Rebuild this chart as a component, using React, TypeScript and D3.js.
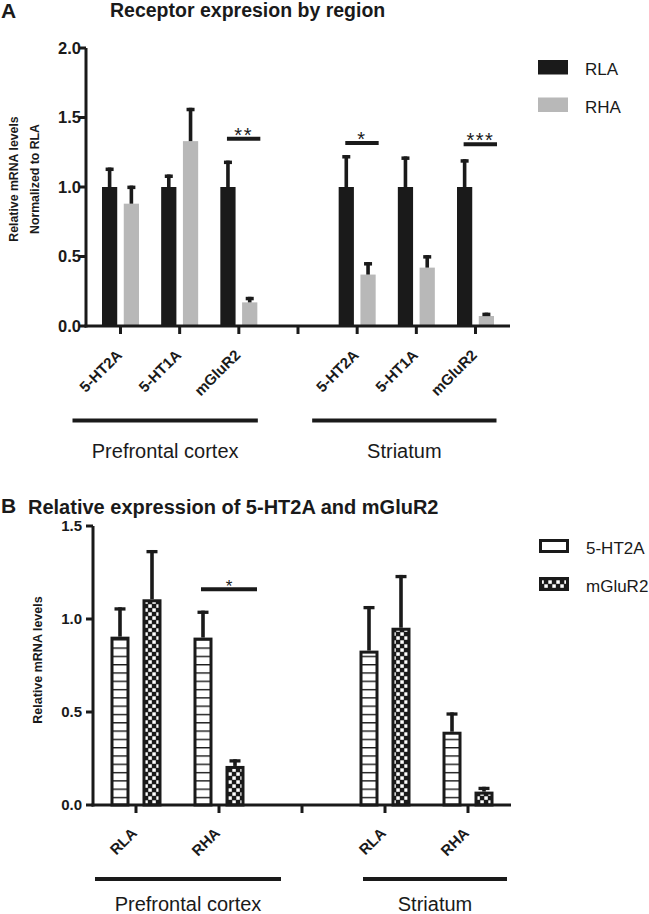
import React from "react";
import * as d3 from "d3";

// ---------- Panel A data ----------
const receptors = ["5-HT2A", "5-HT1A", "mGluR2"];
const regions = ["Prefrontal cortex", "Striatum"];
const strainsA = ["RLA", "RHA"];
const rlaMeans = [1.0, 1.0, 1.0, 1.0, 1.0, 1.0];
const rlaErrors = [0.14, 0.09, 0.19, 0.23, 0.22, 0.2];
const rhaMeans = [0.88, 1.33, 0.17, 0.37, 0.42, 0.072];
const rhaErrors = [0.13, 0.24, 0.04, 0.09, 0.09, 0.024];
const yTicksA = [0, 0.5, 1.0, 1.5, 2.0];
const sigA = [
  { index: 2, level: 1.348, label: "**" },
  { index: 3, level: 1.317, label: "*" },
  { index: 5, level: 1.307, label: "***" },
];

// ---------- Panel B data ----------
const strainsB = ["RLA", "RHA"];
const seriesB = ["5-HT2A", "mGluR2"];
const ht2aMeans = [0.905, 0.9, 0.83, 0.394];
const ht2aErrors = [0.158, 0.145, 0.24, 0.104];
const mglur2Means = [1.106, 0.21, 0.953, 0.072];
const mglur2Errors = [0.265, 0.036, 0.284, 0.026];
const yTicksB = [0, 0.5, 1.0, 1.5];
const sigB = [{ index: 1, level: 1.16, label: "*" }];

const FONT = "'Liberation Sans', Arial, Helvetica, sans-serif";
const BLACK = "#1a1a1a";
const GREY = "#b8b8b8";

function PanelA() {
  const axisY = 326;
  const axisX = 86;
  const y = d3.scaleLinear().domain([0, 2]).range([326, 48]);
  const slots = ["p0", "p1", "p2", "gap", "s0", "s1", "s2"];
  const x = d3.scalePoint<string>().domain(slots).range([86, 510]).padding(0.583);
  const sub = d3.scaleBand<string>().domain(strainsA).range([-18.5, 18.5]).paddingInner(0.3);
  const bw = sub.bandwidth();
  const slotOf = (i: number) => (i < 3 ? slots[i] : slots[i + 1]);
  const bars: { cx: number; mean: number; err: number; color: string }[] = [];
  rlaMeans.forEach((m, i) => {
    bars.push({ cx: x(slotOf(i))! + sub("RLA")!, mean: m, err: rlaErrors[i], color: BLACK });
    bars.push({ cx: x(slotOf(i))! + sub("RHA")!, mean: rhaMeans[i], err: rhaErrors[i], color: GREY });
  });
  const groupLines = [
    { label: regions[0], x1: x("p0")! - 48, x2: x("p2")! + 19 },
    { label: regions[1], x1: x("s0")! - 45, x2: x("s2")! + 21 },
  ];
  return (
    <g>
      <text x={1} y={18} fontSize={21} fontWeight="bold" fontFamily={FONT} fill={BLACK}>A</text>
      <text x={110} y={17} fontSize={19.5} fontWeight="bold" fontFamily={FONT} fill={BLACK}>
        Receptor expresion by region
      </text>
      <g transform="translate(18,179) rotate(-90)">
        <text textAnchor="middle" fontSize={12.3} fontWeight="bold" fontFamily={FONT} fill={BLACK}>
          Relative mRNA levels
        </text>
        <text y={21} textAnchor="middle" fontSize={12.3} fontWeight="bold" fontFamily={FONT} fill={BLACK}>
          Normalized to RLA
        </text>
      </g>
      {bars.map((b, i) => (
        <g key={i}>
          <rect x={b.cx} y={y(b.mean)} width={bw} height={axisY - y(b.mean)} fill={b.color} />
          <rect x={b.cx + bw / 2 - 1.8} y={y(b.mean + b.err)} width={3.6} height={y(b.mean) - y(b.mean + b.err)} fill={BLACK} />
          <rect x={b.cx + bw / 2 - 4} y={y(b.mean + b.err)} width={8} height={3.5} fill={BLACK} />
        </g>
      ))}
      <line x1={axisX} x2={axisX} y1={y(2)} y2={axisY + 1.5} stroke={BLACK} strokeWidth={3} />
      <line x1={axisX - 1.5} x2={510} y1={axisY} y2={axisY} stroke={BLACK} strokeWidth={3} />
      {yTicksA.map((t) => (
        <g key={t}>
          <line x1={axisX - 7} x2={axisX} y1={y(t)} y2={y(t)} stroke={BLACK} strokeWidth={3} />
          <text x={axisX - 5} y={y(t) + 5.8} textAnchor="end" fontSize={16.5} fontWeight="bold" fontFamily={FONT} fill={BLACK}>
            {t.toFixed(1)}
          </text>
        </g>
      ))}
      {slots.map((s) => (
        <line key={s} x1={x(s)!} x2={x(s)!} y1={axisY} y2={axisY + 8} stroke={BLACK} strokeWidth={3} />
      ))}
      {rlaMeans.map((_, i) => (
        <text
          key={i}
          transform={`translate(${x(slotOf(i))! + 2.5},${axisY + 30}) rotate(-45)`}
          textAnchor="end"
          fontSize={15}
          fontWeight="bold"
          fontFamily={FONT}
          fill={BLACK}
        >
          {receptors[i % 3]}
        </text>
      ))}
      {sigA.map((s) => {
        const c = x(slotOf(s.index))!;
        const x1 = c + sub("RLA")! + bw / 2 - 1;
        const x2 = c + sub("RHA")! + bw + 3;
        return (
          <g key={s.index}>
            <line x1={x1} x2={x2} y1={y(s.level)} y2={y(s.level)} stroke={BLACK} strokeWidth={4} />
            <text x={(x1 + x2) / 2} y={y(s.level) + 3} textAnchor="middle" fontSize={20} letterSpacing={1.5} fontFamily={FONT} fill={BLACK}>
              {s.label}
            </text>
          </g>
        );
      })}
      {groupLines.map((g) => (
        <g key={g.label}>
          <line x1={g.x1} x2={g.x2} y1={420.5} y2={420.5} stroke={BLACK} strokeWidth={4} />
          <text x={(g.x1 + g.x2) / 2} y={458} textAnchor="middle" fontSize={20} fontFamily={FONT} fill={BLACK}>
            {g.label}
          </text>
        </g>
      ))}
      {strainsA.map((s, i) => (
        <g key={s}>
          <rect x={538} y={60 + i * 37.5} width={30} height={14.5} fill={i === 0 ? BLACK : GREY} />
          <text x={585} y={75 + i * 37.5} fontSize={17} fontFamily={FONT} fill={BLACK}>{s}</text>
        </g>
      ))}
    </g>
  );
}

function PanelB() {
  const axisY = 805;
  const axisX = 93;
  const y = d3.scaleLinear().domain([0, 1.5]).range([805, 526]);
  const slots = ["pRLA", "pRHA", "gap", "sRLA", "sRHA"];
  const x = d3.scalePoint<string>().domain(slots).range([93, 511]).padding(0.518);
  const sub = d3.scaleBand<string>().domain(seriesB).range([-24, 24]).paddingInner(0.5);
  const bw = sub.bandwidth();
  const slotOf = (i: number) => (i < 2 ? slots[i] : slots[i + 1]);
  const bars: { cx: number; mean: number; err: number; fill: string }[] = [];
  ht2aMeans.forEach((m, i) => {
    bars.push({ cx: x(slotOf(i))! + sub("5-HT2A")!, mean: m, err: ht2aErrors[i], fill: "url(#hlines)" });
    bars.push({ cx: x(slotOf(i))! + sub("mGluR2")!, mean: mglur2Means[i], err: mglur2Errors[i], fill: "url(#checker)" });
  });
  const groupLines = [
    { label: regions[0], x1: x("pRLA")! - 41, x2: x("pRHA")! + 62 },
    { label: regions[1], x1: x("sRLA")! - 22, x2: x("sRHA")! + 39 },
  ];
  return (
    <g>
      <defs>
        <pattern id="hlines" patternUnits="userSpaceOnUse" width={8} height={8.3}>
          <rect width={8} height={8.3} fill="#fff" />
          <rect y={0} width={8} height={1.4} fill={BLACK} />
        </pattern>
        <pattern id="checker" patternUnits="userSpaceOnUse" width={8} height={8}>
          <rect width={8} height={8} fill={BLACK} />
          <rect x={0.3} y={0.3} width={3.5} height={3.5} fill="#fff" />
          <rect x={4.3} y={4.3} width={3.5} height={3.5} fill="#fff" />
        </pattern>
      </defs>
      <text x={1} y={513} fontSize={21} fontWeight="bold" fontFamily={FONT} fill={BLACK}>B</text>
      <text x={28} y={514} fontSize={20} fontWeight="bold" fontFamily={FONT} fill={BLACK}>
        Relative expression of 5-HT2A and mGluR2
      </text>
      <text transform="translate(42,660) rotate(-90)" textAnchor="middle" fontSize={12.5} fontWeight="bold" fontFamily={FONT} fill={BLACK}>
        Relative mRNA levels
      </text>
      {bars.map((b, i) => (
        <g key={i}>
          <rect x={b.cx + bw / 2 - 1.8} y={y(b.mean + b.err)} width={3.6} height={y(b.mean) - y(b.mean + b.err)} fill={BLACK} />
          <rect x={b.cx + bw / 2 - 5.5} y={y(b.mean + b.err)} width={11} height={3.3} fill={BLACK} />
          <rect x={b.cx} y={y(b.mean) + 1.5} width={bw} height={axisY - y(b.mean) - 1.5} fill={b.fill} stroke={BLACK} strokeWidth={3} />
        </g>
      ))}
      <line x1={axisX} x2={axisX} y1={y(1.5)} y2={axisY + 1.5} stroke={BLACK} strokeWidth={3} />
      <line x1={axisX - 1.5} x2={511} y1={axisY} y2={axisY} stroke={BLACK} strokeWidth={3} />
      {yTicksB.map((t) => (
        <g key={t}>
          <line x1={axisX - 7} x2={axisX} y1={y(t)} y2={y(t)} stroke={BLACK} strokeWidth={3} />
          <text x={axisX - 11} y={y(t) + 5.2} textAnchor="end" fontSize={15} fontWeight="bold" fontFamily={FONT} fill={BLACK}>
            {t.toFixed(1)}
          </text>
        </g>
      ))}
      {slots.map((s) => (
        <line key={s} x1={x(s)!} x2={x(s)!} y1={axisY} y2={axisY + 8} stroke={BLACK} strokeWidth={3} />
      ))}
      {ht2aMeans.map((_, i) => (
        <text
          key={i}
          transform={`translate(${x(slotOf(i))! + 2},${axisY + 29}) rotate(-45)`}
          textAnchor="end"
          fontSize={15}
          fontWeight="bold"
          fontFamily={FONT}
          fill={BLACK}
        >
          {strainsB[i % 2]}
        </text>
      ))}
      {sigB.map((s) => {
        const c = x(slotOf(s.index))!;
        const x1 = c + sub("5-HT2A")! + bw / 2 - 2;
        const x2 = c + sub("mGluR2")! + bw + 14;
        return (
          <g key={s.index}>
            <line x1={x1} x2={x2} y1={y(s.level)} y2={y(s.level)} stroke={BLACK} strokeWidth={4} />
            <text x={(x1 + x2) / 2} y={y(s.level) + 3} textAnchor="middle" fontSize={17} fontFamily={FONT} fill={BLACK}>
              {s.label}
            </text>
          </g>
        );
      })}
      {groupLines.map((g) => (
        <g key={g.label}>
          <line x1={g.x1} x2={g.x2} y1={879} y2={879} stroke={BLACK} strokeWidth={4} />
          <text x={(g.x1 + g.x2) / 2} y={911} textAnchor="middle" fontSize={20} fontFamily={FONT} fill={BLACK}>
            {g.label}
          </text>
        </g>
      ))}
      {seriesB.map((s, i) => (
        <g key={s}>
          <rect x={540.5} y={540.5 + i * 38} width={27} height={11} fill={i === 0 ? "#fff" : "url(#checker)"} stroke={BLACK} strokeWidth={3} />
          <text x={586} y={554 + i * 38} fontSize={17} fontFamily={FONT} fill={BLACK}>{s}</text>
        </g>
      ))}
    </g>
  );
}

export default function App() {
  return (
    <svg
      width={649}
      height={914}
      viewBox="0 0 649 914"
      style={{ position: "absolute", left: 0, top: 0, background: "#fff" }}
    >
      <rect width={649} height={914} fill="#fff" />
      <PanelA />
      <PanelB />
    </svg>
  );
}
